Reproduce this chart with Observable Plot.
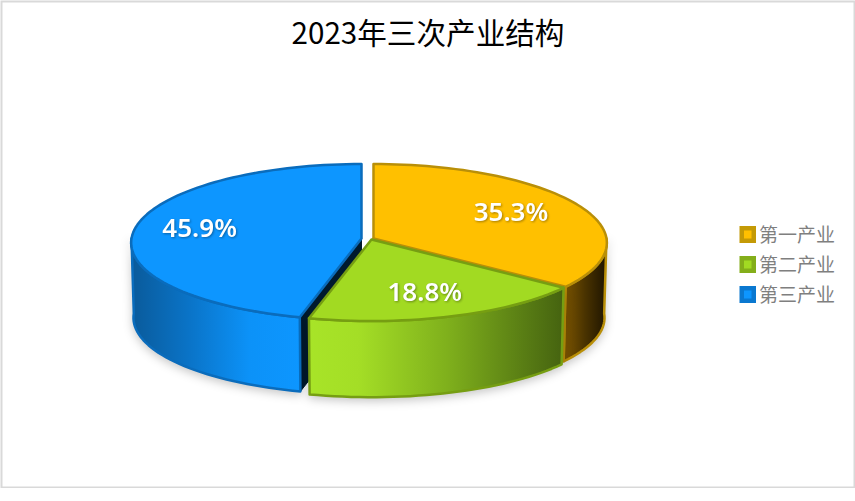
<!DOCTYPE html>
<html lang="zh">
<head>
<meta charset="utf-8">
<script src="https://cdn.jsdelivr.net/npm/d3@7"></script>
<script src="https://cdn.jsdelivr.net/npm/@observablehq/plot@0.6"></script>
<style>
html,body{margin:0;padding:0;background:#fff}
svg{display:block}
</style>
</head>
<body>
<div id="chart"></div>
<script>
// Data
const chartTitle = "2023年三次产业结构";
const categories = ["第一产业", "第二产业", "第三产业"];
const shares = [35.3, 18.8, 45.9];
const labels = ["35.3%", "18.8%", "45.9%"];

// Colours
const topColors = ["#ffc000", "#a2da22", "#0d96ff"];
const edgeColors = ["#b98f08", "#769e12", "#0a6cbc"];
const legendOuter = ["#c49a06", "#84ae1a", "#0a78d0"];
const innerWallColors = ["#8a6a00", "#4a6a10", "#001a2e"];

// Layout of the projected pie
const W = 855, H = 488;
const centers = [[373, 238], [371, 239], [361, 238]];
const radiiX = [233, 233, 230];
const depths = [75, 77, 75];
const RY = 78, PERSPECTIVE_X = 0.055, PERSPECTIVE_Y = 0.045, BOTTOM_SHRINK = 0.99;
const labelRadius = [0.66, 0.7, 0.7];
const labelShiftX = [2, -2, -3];
const labelShiftY = [-3, 0, -3];

// Angles in degrees, clockwise from the top of the disc
const ends = Array.from(d3.cumsum(shares), v => v * 3.6);
const starts = [0, ...ends.slice(0, -1)];

function project(i, deg, r, depth) {
  const c = centers[i];
  const a = deg * Math.PI / 180;
  const px = Math.sin(a) * r, py = -Math.cos(a) * r;
  const shrink = depth ? BOTTOM_SHRINK : 1;
  return {
    x: c[0] + radiiX[i] * px * (1 + PERSPECTIVE_X * py) * shrink,
    y: c[1] + depth + RY * py * (1 + PERSPECTIVE_Y * py) * shrink
  };
}
function arc(i, a0, a1, depth) {
  const n = Math.max(2, Math.ceil(Math.abs(a1 - a0) / 2));
  return d3.range(n + 1).map(k => project(i, a0 + (a1 - a0) * k / n, 1, depth));
}
function topFace(i) {
  const pts = [project(i, 0, 0, 0), ...arc(i, starts[i], ends[i], 0)];
  return [...pts, pts[0]];
}
function outerWall(i) {
  const a0 = Math.max(starts[i], 90), a1 = Math.min(ends[i], 270);
  return [...arc(i, a0, a1, 0), ...arc(i, a1, a0, depths[i]), project(i, a0, 1, 0)];
}
function innerWall(i, deg) {
  const e = project(i, deg, 1, 0), eb = project(i, deg, 1, depths[i]);
  const o = project(i, 0, 0, 0), ob = project(i, 0, 0, depths[i]);
  return [o, e, eb, ob, o];
}
const xy = {x: "x", y: "y"};
const poly = (pts, fill, stroke, extra = {}) =>
  Plot.line(pts, {...xy, fill, stroke, strokeWidth: 2.5, strokeLinejoin: "round", ...extra});

// Gradient definitions for the curved walls
const gradients = () => {
  const defs = d3.create("svg:defs");
  const add = (id, x1, x2, stops) => {
    const g = defs.append("linearGradient").attr("id", id)
      .attr("gradientUnits", "userSpaceOnUse")
      .attr("x1", x1).attr("x2", x2).attr("y1", 0).attr("y2", 0);
    stops.forEach(([o, col]) => g.append("stop").attr("offset", o).attr("stop-color", col));
  };
  add("wall0", 565, 604, [[0, "#7a5400"], [0.5, "#4a3300"], [1, "#221700"]]);
  add("wall1", 307, 561, [[0, "#a8e428"], [0.2, "#a4de26"], [0.55, "#7fb01c"], [1, "#466410"]]);
  add("wall2", 130, 300, [[0, "#0a5a9a"], [0.35, "#0a74c8"], [0.7, "#0c92f8"], [1, "#0d96ff"]]);
  return defs.node();
};

const shadow = "drop-shadow(0px 3px 5px rgba(0,0,0,0.22))";

const labelRows = categories.map((c, i) => {
  const p = project(i, (starts[i] + ends[i]) / 2, labelRadius[i], 0);
  return {x: p.x + labelShiftX[i], y: p.y + labelShiftY[i], text: labels[i]};
});
const legendRows = categories.map((name, i) => ({name, i, y: 234.5 + i * 30}));

const plot = Plot.plot({
  width: W, height: H,
  margin: 0,
  x: {domain: [0, W], range: [0, W], axis: null},
  y: {domain: [0, H], range: [0, H], axis: null},
  marks: [
    gradients,
    Plot.frame({stroke: "#d9d9d9", strokeWidth: 2, inset: 1}),
    Plot.text([chartTitle], {
      x: () => 427.5, y: () => 34, text: d => d, fontSize: 29.6, fill: "#000",
      textAnchor: "middle", lineAnchor: "middle", fontFamily: "'Noto Sans CJK SC'"
    }),
    // third sector: dark cut wall, curved wall, top
    poly(innerWall(2, starts[2]), innerWallColors[2], "#001a2e", {strokeWidth: 1}),
    poly(outerWall(2), "url(#wall2)", edgeColors[2], {imageFilter: shadow}),
    poly(topFace(2), topColors[2], edgeColors[2]),
    // first sector
    poly(outerWall(0), "url(#wall0)", edgeColors[0], {imageFilter: shadow}),
    poly(innerWall(0, ends[0]), innerWallColors[0], edgeColors[0]),
    poly(topFace(0), topColors[0], edgeColors[0]),
    // second sector
    poly(outerWall(1), "url(#wall1)", edgeColors[1], {imageFilter: shadow}),
    poly(topFace(1), topColors[1], edgeColors[1]),
    // percentage labels
    Plot.text(labelRows, {
      x: "x", y: "y", text: "text", fill: "#fff", fontSize: 26, fontWeight: 600,
      fontFamily: "'Noto Sans'", textAnchor: "middle", lineAnchor: "middle",
      imageFilter: "drop-shadow(1px 1px 1px rgba(0,0,0,0.35))"
    }),
    // legend
    Plot.rect(legendRows, {
      x1: () => 739.5, x2: () => 756, y1: d => d.y - 8.5, y2: d => d.y + 8.5,
      fill: d => legendOuter[d.i]
    }),
    Plot.rect(legendRows, {
      x1: () => 744, x2: () => 751.5, y1: d => d.y - 4, y2: d => d.y + 4,
      fill: d => topColors[d.i]
    }),
    Plot.text(legendRows, {
      x: () => 758.5, y: d => d.y + 1, text: "name", fill: "#7f7f7f", fontSize: 19,
      textAnchor: "start", lineAnchor: "middle", fontFamily: "'Noto Sans CJK SC'"
    })
  ]
});
document.getElementById("chart").append(plot);
</script>
</body>
</html>
